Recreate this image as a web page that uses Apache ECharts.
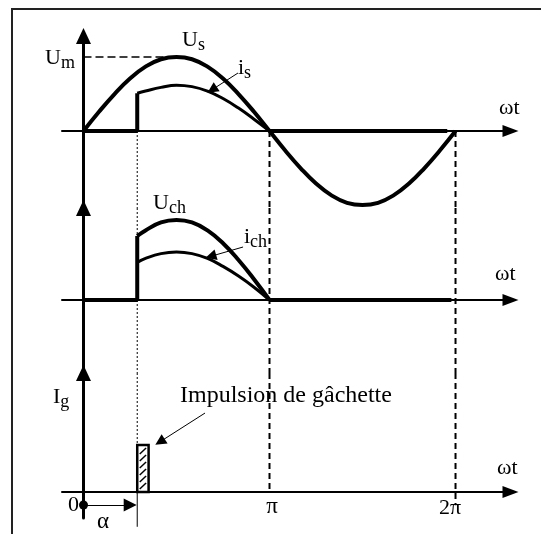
<!DOCTYPE html>
<html>
<head>
<meta charset="utf-8">
<script src="https://cdn.jsdelivr.net/npm/echarts@6/dist/echarts.min.js"></script>
<style>
  html, body { margin: 0; padding: 0; background: #fff; }
  #main { width: 541px; height: 534px; }
</style>
</head>
<body>
<div id="main"></div>
<script>
  // angles in degrees (wt), amplitudes relative to Um
  const alphaDeg = 52;
  const piDeg = 180;
  const twoPiDeg = 360;
  const pulseEndDeg = 63;

  const usAngles = [0, 15, 30, 45, 60, 75, 90, 105, 120, 135, 150, 165, 180,
    195, 210, 225, 240, 255, 270, 285, 300, 315, 330, 345, 360];
  const usValues = [0, 0.26, 0.5, 0.71, 0.87, 0.97, 1, 0.97, 0.87, 0.71, 0.5, 0.26, 0,
    -0.26, -0.5, -0.71, -0.87, -0.97, -1, -0.97, -0.87, -0.71, -0.5, -0.26, 0];

  const onAngles = [52, 60, 75, 90, 105, 120, 135, 150, 165, 180];
  const isValues = [0.51, 0.54, 0.59, 0.62, 0.6, 0.54, 0.44, 0.31, 0.16, 0];
  const uchValues = [0.8, 0.87, 0.97, 1, 0.97, 0.87, 0.71, 0.5, 0.26, 0];
  const ichValues = [0.47, 0.52, 0.58, 0.6, 0.58, 0.52, 0.42, 0.3, 0.16, 0];
  const isZeroEnd = 352;
  const uchZeroEnd = 356;
  const igPulse = [alphaDeg, pulseEndDeg, 1];

  // axis ranges of the three panels
  const xMin = -20.8, xMax = 413.2;
  const yRange = [[-1.04, 1.284], [-0.9125, 1.15], [-0.553, 2.532]];

  const chart = echarts.init(document.getElementById('main'));
  const serif = '"Liberation Serif", "Times New Roman", serif';

  function zip(xs, ys) {
    return xs.map((x, i) => [x, ys[i]]);
  }

  // guide / curve segment in panel g
  function seg(g, pts, width, type, smooth) {
    return {
      type: 'line', xAxisIndex: g, yAxisIndex: g, data: pts,
      symbol: 'none', clip: false, silent: true, smooth: smooth || false,
      lineStyle: { color: '#000', width: width, type: type || 'solid', cap: 'butt' },
      z: 3
    };
  }

  function pointer(from, to) {
    return [
      { coord: from, symbol: 'none' },
      { coord: to, symbol: 'triangle', symbolSize: 11 }
    ];
  }

  function withMarks(s, data) {
    s.markLine = {
      silent: true, animation: false,
      label: { show: false },
      lineStyle: { color: '#000', width: 1, type: 'solid' },
      data: data
    };
    return s;
  }

  function txt(x, y, s, size, align) {
    return {
      type: 'text', x: x, y: y, silent: true,
      style: {
        text: s, fill: '#000', fontSize: size, fontFamily: serif,
        align: align || 'left', verticalAlign: 'middle'
      }
    };
  }

  // symbol with lowered subscript
  function subTxt(x, y, base, sub) {
    return {
      type: 'text', x: x, y: y, silent: true,
      style: {
        text: '{a|' + base + '}{b|' + sub + '}',
        fill: '#000', align: 'left', verticalAlign: 'middle',
        rich: {
          a: { fontSize: 22, fontFamily: serif, lineHeight: 22, verticalAlign: 'bottom', padding: [0, 0, 3, 0] },
          b: { fontSize: 18, fontFamily: serif, lineHeight: 18, verticalAlign: 'bottom' }
        }
      }
    };
  }

  const grids = [
    { left: 62, right: 30.5, top: 36, bottom: 326 },
    { left: 62, right: 30.5, top: 208, bottom: 161 },
    { left: 62, right: 30.5, top: 373, bottom: 16 }
  ];

  const xAxes = grids.map((g, i) => ({
    type: 'value', gridIndex: i, min: xMin, max: xMax,
    axisLine: { onZero: true, symbol: ['none', 'triangle'], symbolSize: [12, 16],
      lineStyle: { color: '#000', width: 2 } },
    axisTick: { show: false }, axisLabel: { show: false }, splitLine: { show: false }
  }));
  const yAxes = grids.map((g, i) => ({
    type: 'value', gridIndex: i, min: yRange[i][0], max: yRange[i][1],
    axisLine: { onZero: true, symbol: ['none', 'triangle'], symbolSize: [15, 16],
      lineStyle: { color: '#000', width: 3 } },
    axisTick: { show: false }, axisLabel: { show: false }, splitLine: { show: false }
  }));

  const dash = [6, 4];
  const dot = [2, 2];
  const series = [
    // top panel : Us and is
    seg(0, [[0, 1], [85, 1]], 1.5, [8, 4]),
    seg(0, [[alphaDeg, 0], [alphaDeg, yRange[0][0]]], 1, dot),
    seg(0, [[piDeg, 0], [piDeg, yRange[0][0]]], 2, dash),
    seg(0, [[twoPiDeg, 0], [twoPiDeg, yRange[0][0]]], 2, dash),
    seg(0, zip(usAngles, usValues), 4, 'solid', 0.45),
    seg(0, [[0, 0], [alphaDeg, 0], [alphaDeg, isValues[0]]], 4),
    withMarks(seg(0, zip(onAngles, isValues), 3, 'solid', 0.45),
      [pointer([149.5, 0.784], [124.4, 0.558])]),
    seg(0, [[piDeg, 0], [isZeroEnd, 0]], 4),

    // middle panel : Uch and ich
    seg(1, [[alphaDeg, yRange[1][1]], [alphaDeg, yRange[1][0]]], 1, dot),
    seg(1, [[piDeg, yRange[1][1]], [piDeg, yRange[1][0]]], 2, dash),
    seg(1, [[twoPiDeg, yRange[1][1]], [twoPiDeg, yRange[1][0]]], 2, dash),
    seg(1, [[0, 0], [alphaDeg, 0], [alphaDeg, uchValues[0]]], 4),
    seg(1, zip(onAngles, uchValues), 4, 'solid', 0.45),
    withMarks(seg(1, zip(onAngles, ichValues), 3, 'solid', 0.45),
      [pointer([154.4, 0.6625], [123.2, 0.546])]),
    seg(1, [[piDeg, 0], [uchZeroEnd, 0]], 4),

    // bottom panel : Ig
    seg(2, [[alphaDeg, yRange[2][1]], [alphaDeg, igPulse[2]]], 1, dot),
    seg(2, [[alphaDeg, 0], [alphaDeg, -0.74]], 1),
    seg(2, [[twoPiDeg, yRange[2][1]], [twoPiDeg, -0.28]], 2, dash),
    withMarks(seg(2, [[piDeg, yRange[2][1]], [piDeg, 0]], 2, dash), [
      pointer([117.6, 1.68], [74.0, 1.068]),
      [
        { coord: [0, -0.277], symbol: 'circle', symbolSize: 9 },
        { coord: [alphaDeg - 6.8, -0.277], symbol: 'triangle', symbolSize: 13 }
      ]
    ]),
    {
      type: 'custom', xAxisIndex: 2, yAxisIndex: 2, silent: true, z: 4,
      data: [igPulse],
      encode: { x: [0, 1], y: 2 },
      renderItem: function (params, api) {
        const p0 = api.coord([api.value(0), 0]);
        const p1 = api.coord([api.value(1), api.value(2)]);
        const x = p0[0], y = p1[1], w = p1[0] - p0[0], h = p0[1] - p1[1];
        const children = [{
          type: 'rect', shape: { x: x, y: y, width: w, height: h },
          style: { fill: '#fff', stroke: '#000', lineWidth: 2.5 }
        }];
        for (let yy = y + 3; yy + 6 < y + h - 1; yy += 7) {
          children.push({
            type: 'line',
            shape: { x1: x + 2.5, y1: yy + 6, x2: x + w - 2.5, y2: yy },
            style: { stroke: '#000', lineWidth: 1.5 }
          });
        }
        return { type: 'group', children: children };
      }
    }
  ];

  const graphic = [
    { type: 'rect', silent: true, shape: { x: 12, y: 9, width: 620, height: 620 },
      style: { fill: 'none', stroke: '#222', lineWidth: 2 } },
    subTxt(45, 61, 'U', 'm'),
    subTxt(182, 43.5, 'U', 's'),
    subTxt(238, 71, 'i', 's'),
    txt(499, 108.6, 'ωt', 22),
    subTxt(153, 206.5, 'U', 'ch'),
    subTxt(244, 240.5, 'i', 'ch'),
    txt(495, 274.6, 'ωt', 22),
    subTxt(53, 400.5, 'I', 'g'),
    txt(180, 396, 'Impulsion de gâchette', 24),
    txt(497, 468.6, 'ωt', 22),
    txt(68, 505, '0', 22),
    txt(97, 521.5, 'α', 23),
    txt(272, 506.5, 'π', 23, 'center'),
    txt(439, 508, '2π', 22)
  ];

  chart.setOption({
    animation: false,
    backgroundColor: '#fff',
    grid: grids,
    xAxis: xAxes,
    yAxis: yAxes,
    series: series,
    graphic: graphic
  });
</script>
</body>
</html>
